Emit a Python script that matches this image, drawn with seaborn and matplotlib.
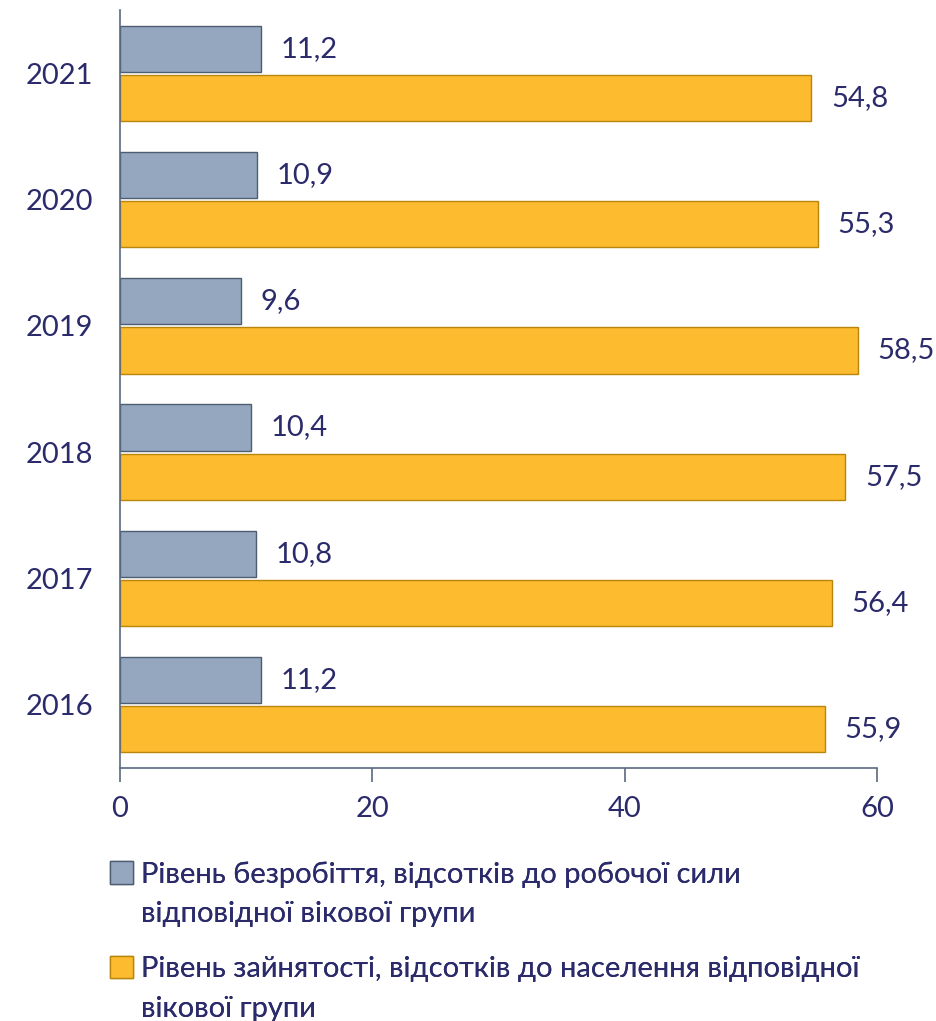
import numpy as np
import pandas as pd
import matplotlib
matplotlib.use("Agg")
import matplotlib.pyplot as plt
import matplotlib.patches as mpatches
import seaborn as sns

# ── Data ──────────────────────────────────────────────────────────────────────
years = ["2021", "2020", "2019", "2018", "2017", "2016"]
unemployment = [11.2, 10.9, 9.6, 10.4, 10.8, 11.2]
employment = [54.8, 55.3, 58.5, 57.5, 56.4, 55.9]
series_names = [
    "Рівень безробіття, відсотків до робочої сили\nвідповідної вікової групи",
    "Рівень зайнятості, відсотків до населення відповідної\nвікової групи",
]
x_ticks = [0, 20, 40, 60]

TEXT = "#2B2B6B"
GREY = "#94A7BF"
ORANGE = "#FDBB2F"
EDGES = ["#4E5D70", "#B8860B"]
AXIS = "#5A6A80"

sns.set_theme(style="white")
plt.rcParams["font.family"] = ["Lato", "DejaVu Sans"]

df = pd.DataFrame({
    "year": years * 2,
    "value": unemployment + employment,
    "series": [series_names[0]] * len(years) + [series_names[1]] * len(years),
})

fig = plt.figure(figsize=(9.36, 10.21), dpi=100)
ax = fig.add_axes([0.128, 0.248, 0.809, 0.742])

sns.barplot(data=df, y="year", x="value", hue="series", order=years,
            hue_order=series_names, palette=[GREY, ORANGE], saturation=1,
            orient="h", width=0.78, gap=0.06, ax=ax, legend=False,
            errorbar=None, linewidth=1.0)

for cont, ec in zip(ax.containers, EDGES):
    for bar in cont:
        bar.set_edgecolor(ec)
    ax.bar_label(cont, labels=[f"{v:.1f}".replace(".", ",") for v in cont.datavalues],
                 padding=14, fontsize=21, color=TEXT)

ax.set_xlim(0, 60)
ax.set_xticks(x_ticks)
ax.set_xlabel("")
ax.set_ylabel("")
ax.tick_params(axis="x", length=10, width=1.2, color=AXIS, direction="out",
               labelsize=21, labelcolor=TEXT, pad=10, bottom=True)
ax.tick_params(axis="y", length=0, labelsize=21, labelcolor=TEXT, pad=19)
for s in ["top", "right"]:
    ax.spines[s].set_visible(False)
for s in ["left", "bottom"]:
    ax.spines[s].set_color(AXIS)
    ax.spines[s].set_linewidth(1.2)

# legend: marker next to the first line of each entry
empty = mpatches.Patch(facecolor="none", edgecolor="none")
for i, (c, ec) in enumerate(zip([GREY, ORANGE], EDGES)):
    first, second = series_names[i].split("\n")
    h = mpatches.Patch(facecolor=c, edgecolor=ec)
    leg = fig.legend([h, empty], [first, second], loc="upper left",
                     bbox_to_anchor=(0.105, 0.168 - i * 0.093), frameon=False,
                     fontsize=21, labelcolor=TEXT, handlelength=0.8,
                     handleheight=0.8, handletextpad=0.25, labelspacing=0.45,
                     borderaxespad=0)
    fig.add_artist(leg)

fig.savefig("out.png", dpi=100)
